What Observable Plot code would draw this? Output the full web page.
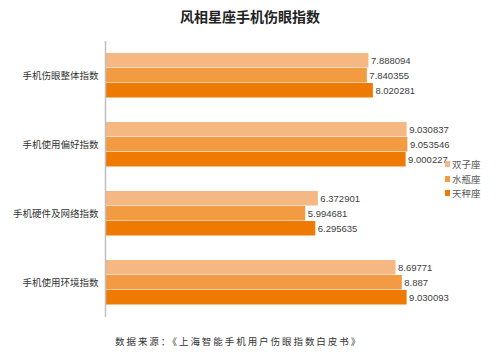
<!DOCTYPE html>
<html><head><meta charset="utf-8">
<script src="https://cdn.jsdelivr.net/npm/d3@7"></script>
<script src="https://cdn.jsdelivr.net/npm/@observablehq/plot@0.6"></script>
<style>
body{margin:0;background:#fff;font-family:"Noto Sans CJK SC","Noto Sans",sans-serif}
#wrap{position:relative;width:500px;height:360px;overflow:hidden;background:#fff}
#wrap svg{position:absolute;left:0;top:0}
#title{position:absolute;left:0;top:6px;width:500px;text-align:center;font-size:14px;font-weight:bold;color:#222;line-height:20px}
#caption{position:absolute;left:115px;top:333px;font-size:9.5px;letter-spacing:1.95px;color:#333;line-height:16px;white-space:nowrap}
#legend{position:absolute;left:445px;top:157px;font-size:9.5px;color:#595959;line-height:14.5px}
#legend .row{display:flex;align-items:center;white-space:nowrap}
#legend .sw{width:5px;height:6px;margin-right:2px}
</style></head>
<body><div id="wrap"><div id="title">风相星座手机伤眼指数</div><div id="legend"></div><div id="caption">数据来源：《上海智能手机用户伤眼指数白皮书》</div></div>
<script>
const categories = ["手机伤眼整体指数", "手机使用偏好指数", "手机硬件及网络指数", "手机使用环境指数"];
const series = ["双子座", "水瓶座", "天秤座"];
const gemini = [7.888094, 9.030837, 6.372901, 8.69771];
const aquarius = [7.840355, 9.053546, 5.994681, 8.887];
const libra = [8.020281, 9.000227, 6.295635, 9.030093];
const colors = ["#F6B883", "#F29B42", "#EE7A04"];

const seriesValues = [gemini, aquarius, libra];
const data = categories.flatMap((c, i) => series.map((s, j) => ({category: c, series: s, value: seriesValues[j][i]})));

const chart = Plot.plot({
  width: 500, height: 360,
  marginTop: 41, marginBottom: 43, marginLeft: 105, marginRight: 61,
  style: {fontSize: "9.5px", fontFamily: "'Noto Sans CJK SC', sans-serif", color: "#333", background: "transparent"},
  x: {domain: [0, 10], axis: null},
  y: {domain: series, axis: null, paddingInner: 0, paddingOuter: 0.75},
  fy: {domain: categories, padding: 0, label: null, tickSize: 0, tickPadding: 7},
  color: {domain: series, range: colors},
  marks: [
    Plot.barX(data, {x: "value", y: "series", fy: "category", fill: "series", insetBottom: 0.5}),
    Plot.text(data, {x: "value", y: "series", fy: "category", text: d => String(d.value), textAnchor: "start", dx: 2, fill: "#404040", fontSize: 9.5, fontFamily: "'Liberation Sans', sans-serif"}),
    Plot.ruleX([0], {stroke: "#bfbfbf", strokeWidth: 1.5})
  ]
});
const wrap = document.getElementById("wrap");
wrap.insertBefore(chart, wrap.firstChild);

const legend = document.getElementById("legend");
series.forEach((s, i) => {
  const row = document.createElement("div");
  row.className = "row";
  const sw = document.createElement("span");
  sw.className = "sw";
  sw.style.background = colors[i];
  const t = document.createElement("span");
  t.textContent = s;
  row.appendChild(sw); row.appendChild(t);
  legend.appendChild(row);
});
</script>
</body></html>
